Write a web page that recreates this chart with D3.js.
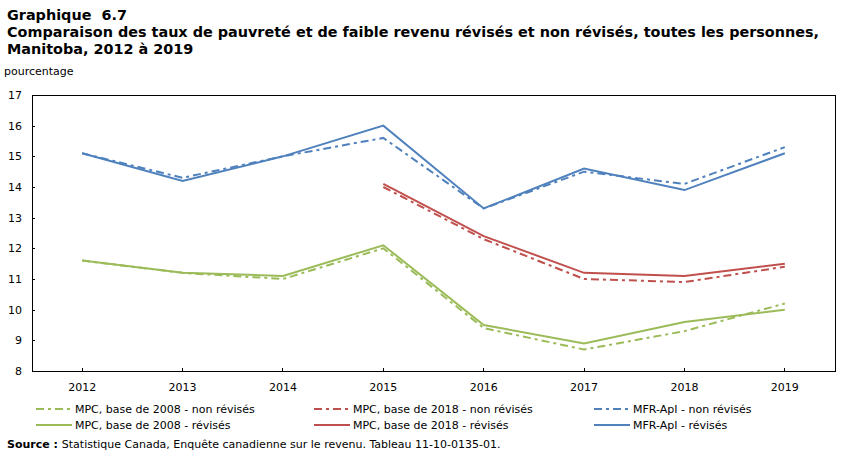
<!DOCTYPE html>
<html><head><meta charset="utf-8">
<script src="https://cdn.jsdelivr.net/npm/d3@7/dist/d3.min.js"></script>
<style>body{margin:0;background:#fff}svg{display:block}</style>
</head><body>
<svg id="c" width="851" height="455"></svg>
<script>
const years = ["2012","2013","2014","2015","2016","2017","2018","2019"];
const yTicks = [8,9,10,11,12,13,14,15,16,17];
const mpc2008Non = [11.6,11.2,11.0,12.0,9.4,8.7,9.3,10.2];
const mpc2008Rev = [11.6,11.2,11.1,12.1,9.5,8.9,9.6,10.0];
const mpc2018Non = [null,null,null,14.0,12.3,11.0,10.9,11.4];
const mpc2018Rev = [null,null,null,14.1,12.4,11.2,11.1,11.5];
const mfrNon = [15.1,14.3,15.0,15.6,13.3,14.5,14.1,15.3];
const mfrRev = [15.1,14.2,15.0,16.0,13.3,14.6,13.9,15.1];
const seriesNames = ["MPC, base de 2008 - non révisés","MPC, base de 2018 - non révisés","MFR-ApI - non révisés",
                     "MPC, base de 2008 - révisés","MPC, base de 2018 - révisés","MFR-ApI - révisés"];

const green="#9BBB59", red="#C0504D", blue="#4F81BD";
const DASH="8,4,3,4";
const series = [
  {name:seriesNames[0], vals:mpc2008Non, color:green, dash:DASH},
  {name:seriesNames[1], vals:mpc2018Non, color:red, dash:DASH},
  {name:seriesNames[2], vals:mfrNon, color:blue, dash:DASH},
  {name:seriesNames[3], vals:mpc2008Rev, color:green, dash:null},
  {name:seriesNames[4], vals:mpc2018Rev, color:red, dash:null},
  {name:seriesNames[5], vals:mfrRev, color:blue, dash:null}
];

const svg = d3.select("#c");
const L=32, R=835, T=95, B=371;
const x = d3.scaleBand().domain(years).range([L,R]);
const y = d3.scaleLinear().domain([8,17]).range([B,T]);
const font = "'DejaVu Sans', Verdana, sans-serif";

// title
const tt = svg.append("g").attr("font-family",font).attr("font-weight","bold").attr("font-size","14.4px").attr("fill","#000");
tt.append("text").attr("x",7).attr("y",20).text("Graphique\u00A0 6.7");
tt.append("text").attr("x",7).attr("y",37)
  .text("Comparaison des taux de pauvreté et de faible revenu révisés et non révisés, toutes les personnes,");
tt.append("text").attr("x",7).attr("y",54).text("Manitoba, 2012 à 2019");
svg.append("text").attr("x",4).attr("y",75).attr("font-family",font).attr("font-size","11px").text("pourcentage");

// frame
svg.append("rect").attr("x",L).attr("y",T).attr("width",R-L).attr("height",B-T).attr("fill","none").attr("stroke","#000").attr("stroke-width",1).attr("shape-rendering","crispEdges");

// y axis
const ya = svg.append("g").attr("transform",`translate(${L},0)`)
  .call(d3.axisLeft(y).tickValues(yTicks).tickSize(-3).tickPadding(10).tickFormat(d3.format("d")));
ya.select(".domain").remove();
ya.selectAll("line").attr("stroke","#000").attr("shape-rendering","crispEdges");
ya.selectAll("text").attr("font-family",font).attr("font-size","11px").attr("fill","#000");

// x axis
const xa = svg.append("g").attr("transform",`translate(0,${B})`)
  .call(d3.axisBottom(x).tickSize(-3).tickPadding(12));
xa.select(".domain").remove();
xa.selectAll("line").attr("stroke","#000").attr("shape-rendering","crispEdges");
xa.selectAll("text").attr("font-family",font).attr("font-size","11px").attr("fill","#000");

// lines
const line = d3.line().defined(d=>d.v!=null).x(d=>x(d.yr)+x.bandwidth()/2).y(d=>y(d.v));
series.forEach(s=>{
  const data = years.map((yr,i)=>({yr, v:s.vals[i]}));
  svg.append("path").datum(data).attr("d",line).attr("fill","none")
    .attr("stroke",s.color).attr("stroke-width",2)
    .attr("stroke-dasharray",s.dash);
});

// legend
const colX=[36,314,594], rowY=[409,425];
series.forEach((s,i)=>{
  const cx=colX[i%3], cy=rowY[Math.floor(i/3)];
  svg.append("line").attr("x1",cx).attr("x2",cx+36).attr("y1",cy).attr("y2",cy)
    .attr("stroke",s.color).attr("stroke-width",2).attr("stroke-dasharray",s.dash);
  svg.append("text").attr("x",cx+39).attr("y",cy+4).attr("font-family",font).attr("font-size","11px").text(s.name);
});

// source
const src = svg.append("text").attr("x",7).attr("y",448).attr("font-family",font).attr("font-size","11px");
src.append("tspan").attr("font-weight","bold").text("Source : ");
src.append("tspan").text("Statistique Canada, Enquête canadienne sur le revenu. Tableau 11-10-0135-01.");
</script>
</body></html>
